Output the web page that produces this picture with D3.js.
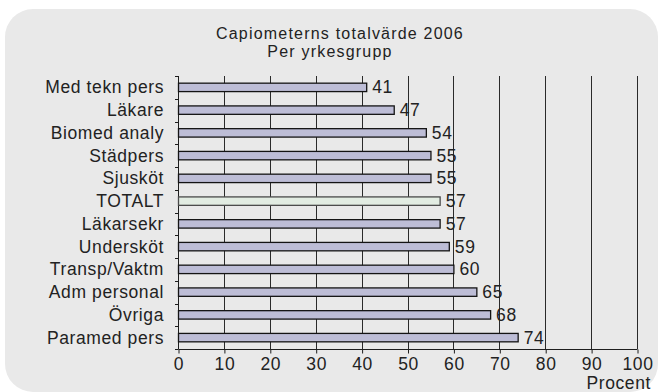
<!DOCTYPE html>
<html>
<head>
<meta charset="utf-8">
<script src="https://cdn.jsdelivr.net/npm/d3@7"></script>
<style>
  html, body { margin: 0; padding: 0; background: #ffffff; }
  svg { display: block; }
  text { font-family: "Liberation Sans", Arial, Helvetica, sans-serif; fill: #222222; }
</style>
</head>
<body>
<svg id="chart" width="658" height="392"></svg>
<script>
// Occupational groups, top to bottom
const categories = [
  "Med tekn pers", "Läkare", "Biomed analy", "Städpers", "Sjusköt", "TOTALT",
  "Läkarsekr", "Undersköt", "Transp/Vaktm", "Adm personal", "Övriga", "Paramed pers"
];
// Capiometer total value per group (percent)
const values = [41, 47, 54, 55, 55, 57, 57, 59, 60, 65, 68, 74];
const xTicks = [0, 10, 20, 30, 40, 50, 60, 70, 80, 90, 100];
const titleLines = ["Capiometerns totalvärde 2006", "Per yrkesgrupp"];
const unitLabel = "Procent";
const highlight = "TOTALT";

const data = categories.map((c, i) => ({ cat: c, val: values[i] }));

const svg = d3.select("#chart");
const plot = { left: 178, right: 637, top: 76, bottom: 349 };
const fontSize = "17.5px";
const tracking = "0.6px";

// Rounded grey panel behind everything
svg.append("rect")
  .attr("x", 5).attr("y", 9)
  .attr("width", 653).attr("height", 383)
  .attr("rx", 28).attr("ry", 28)
  .attr("fill", "#e9e9e9");

const x = d3.scaleLinear().domain([0, 100]).range([plot.left, plot.right]);
const y = d3.scaleBand().domain(categories).range([plot.top, plot.bottom]).padding(0);

// Title
svg.append("text").attr("x", 340).attr("y", 39)
  .attr("text-anchor", "middle").style("font-size", "16px").style("letter-spacing", "1.2px")
  .text(titleLines[0]);
svg.append("text").attr("x", 330).attr("y", 57)
  .attr("text-anchor", "middle").style("font-size", "16px").style("letter-spacing", "1.2px")
  .text(titleLines[1]);

// Vertical gridlines
svg.append("g").selectAll("line")
  .data(xTicks.filter(t => t > 0))
  .join("line")
  .attr("x1", d => Math.round(x(d)) + 0.5).attr("x2", d => Math.round(x(d)) + 0.5)
  .attr("y1", plot.top).attr("y2", plot.bottom)
  .attr("stroke", "#2a2a2a").attr("stroke-width", 1);

// Bottom axis
const xAxis = d3.axisBottom(x).tickValues(xTicks).tickSize(4).tickPadding(3)
  .tickFormat(d3.format("d"));
const gx = svg.append("g").attr("transform", `translate(0.5,${plot.bottom + 0.5})`).call(xAxis);
gx.attr("font-family", null).attr("font-size", null);
gx.select(".domain").attr("stroke", "#1e1e1e").attr("d", `M${plot.left},0H${plot.right}`);
gx.selectAll(".tick line").attr("stroke", "#1e1e1e");
gx.selectAll(".tick text")
  .style("font-size", fontSize).style("letter-spacing", tracking)
  .attr("fill", "#222222").attr("y", 0).attr("dy", "20px");

// Left axis line with ticks at band boundaries
const boundaries = d3.range(categories.length + 1).map(i => plot.top + i * y.step());
svg.append("line")
  .attr("x1", plot.left + 0.5).attr("x2", plot.left + 0.5)
  .attr("y1", plot.top).attr("y2", plot.bottom)
  .attr("stroke", "#1e1e1e");
svg.append("g").selectAll("line")
  .data(boundaries)
  .join("line")
  .attr("x1", plot.left - 3).attr("x2", plot.left + 0.5)
  .attr("y1", d => Math.round(d) + 0.5).attr("y2", d => Math.round(d) + 0.5)
  .attr("stroke", "#1e1e1e");

// Category labels
svg.append("g").selectAll("text")
  .data(categories)
  .join("text")
  .attr("x", 164)
  .attr("y", d => y(d) + y.bandwidth() / 2)
  .attr("dy", "0.34em")
  .attr("text-anchor", "end")
  .style("font-size", fontSize).style("letter-spacing", tracking)
  .text(d => d);

// Bars
const barH = y.bandwidth() * 0.37;
svg.append("g").selectAll("rect")
  .data(data)
  .join("rect")
  .attr("x", x(0) + 0.5)
  .attr("y", d => y(d.cat) + (y.bandwidth() - barH) / 2)
  .attr("width", d => x(d.val) - x(0))
  .attr("height", barH)
  .attr("fill", d => d.cat === highlight ? "#e2ece2" : "#bdbdd6")
  .attr("stroke", d => d.cat === highlight ? "#4a4a4a" : "#141414")
  .attr("stroke-width", 1.3);

// Value labels
svg.append("g").selectAll("text")
  .data(data)
  .join("text")
  .attr("x", d => x(d.val) + 6)
  .attr("y", d => y(d.cat) + y.bandwidth() / 2)
  .attr("dy", "0.34em")
  .style("font-size", fontSize).style("letter-spacing", tracking)
  .text(d => d.val);

// Unit label
svg.append("text")
  .attr("x", 651).attr("y", 389)
  .attr("text-anchor", "end")
  .style("font-size", fontSize).style("letter-spacing", tracking)
  .text(unitLabel);
</script>
</body>
</html>
